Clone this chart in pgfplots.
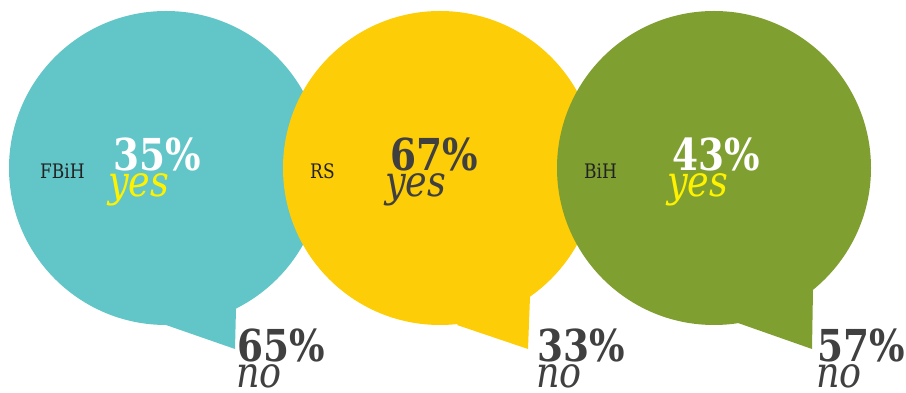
\documentclass[border=0pt]{standalone}
\usepackage{pgfplots}
\pgfplotsset{compat=1.18}
\usepackage{fontspec}
\setmainfont{DejaVu Serif}
\newfontfamily\numfont[FakeStretch=0.85]{DejaVu Serif}
\definecolor{cteal}{HTML}{62C6C8}
\definecolor{cyel}{HTML}{FDCD07}
\definecolor{cgreen}{HTML}{7F9F31}
\definecolor{cdark}{HTML}{404040}
\definecolor{cyestxt}{HTML}{FFF200}
\definecolor{clab}{HTML}{222222}
\newcommand{\pct}[1]{{\numfont\bfseries\fontsize{44}{44}\selectfont #1\%}}
\newcommand{\word}[1]{{\numfont\itshape\fontsize{43}{43}\selectfont #1}}
\newcommand{\lab}[1]{{\numfont\fontsize{20}{20}\selectfont #1}}
% value over word, baselines 26pt apart; box baseline = word baseline
\newcommand{\stack}[5]{\vbox{\baselineskip=26pt\lineskiplimit=-100pt\lineskip=0pt
  \hbox{\color{#1}\pct{#2}}\hbox{\hskip#5\color{#3}\word{#4}}}}
\begin{document}
\begin{tikzpicture}
\begin{axis}[
  scale only axis, width=906pt, height=393pt,
  xmin=0, xmax=906, ymin=0, ymax=393,
  hide axis, clip=false]
% FBiH bubble (yes 35, no 65): tail polygon + circle centred at (166,225), radius 157
\addplot[fill=cteal, draw=none] coordinates {(166,68) (235,44) (236,84) (190,90)} -- cycle (166,225) circle [radius=157pt];
% RS bubble (yes 67, no 33)
\addplot[fill=cyel, draw=none] coordinates {(457,68) (528,44) (530,96) (490,90)} -- cycle (440,225) circle [radius=157pt];
% BiH bubble (yes 43, no 57)
\addplot[fill=cgreen, draw=none] coordinates {(738,70) (812,44) (813,103) (760,90)} -- cycle (714,225) circle [radius=157pt];

% region labels
\node[anchor=base west, inner sep=0, text=clab] at (axis cs:40,214) {\lab{FBiH}};
\node[anchor=base west, inner sep=0, text=clab] at (axis cs:310,214) {\lab{RS}};
\node[anchor=base west, inner sep=0, text=clab] at (axis cs:584,214) {\lab{BiH}};
% yes values
\node[anchor=base west, inner sep=0] at (axis cs:113,196) {\stack{white}{35}{cyestxt}{yes}{-5pt}};
\node[anchor=base west, inner sep=0] at (axis cs:390,196) {\stack{cdark}{67}{cdark}{yes}{-5pt}};
\node[anchor=base west, inner sep=0] at (axis cs:672,196) {\stack{white}{43}{cyestxt}{yes}{-5pt}};
% no values
\node[anchor=base west, inner sep=0] at (axis cs:237,5) {\stack{cdark}{65}{cdark}{no}{-1pt}};
\node[anchor=base west, inner sep=0] at (axis cs:537,5) {\stack{cdark}{33}{cdark}{no}{-1pt}};
\node[anchor=base west, inner sep=0] at (axis cs:817,5) {\stack{cdark}{57}{cdark}{no}{-1pt}};
\end{axis}
\pgfresetboundingbox
\useasboundingbox (0,0) rectangle (906pt,393pt);
\end{tikzpicture}
\end{document}
